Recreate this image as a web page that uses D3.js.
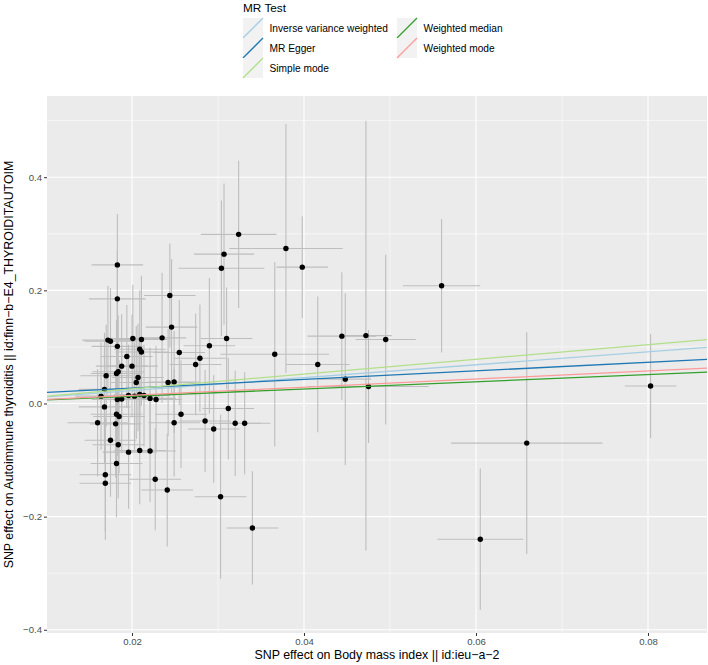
<!DOCTYPE html>
<html>
<head>
<meta charset="utf-8">
<script src="https://cdn.jsdelivr.net/npm/d3@7"></script>
<style>
  html, body { margin: 0; padding: 0; background: #ffffff; }
  svg { display: block; font-family: "Liberation Sans", Arial, Helvetica, sans-serif; }
</style>
</head>
<body>
<svg id="chart" width="708" height="665"></svg>
<script>
// ---- data ----
const exposureBeta = [0.0183,0.0183,0.0244,0.0246,0.0172,0.0175,0.0201,0.0211,0.0235,0.0183,
  0.0209,0.0211,0.0255,0.0194,0.0188,0.0200,0.0274,0.0279,0.0170,0.0182,
  0.0184,0.0207,0.0205,0.0242,0.0249,0.0168,0.0164,0.0196,0.0203,0.0209,
  0.0214,0.0183,0.0188,0.0221,0.0228,0.0168,0.0182,0.0185,0.0160,0.0181,
  0.0257,0.0249,0.0285,0.0295,0.0175,0.0184,0.0196,0.0209,0.0221,0.0182,
  0.0169,0.0169,0.0227,0.0241,0.0303,0.0324,0.0307,0.0304,0.0379,0.0398,
  0.0310,0.0290,0.0366,0.0444,0.0416,0.0448,0.0312,0.0320,0.0331,0.0340,
  0.0472,0.0495,0.0475,0.0560,0.0605,0.0659,0.0803];
const outcomeBeta = [0.245,0.185,0.191,0.135,0.112,0.110,0.115,0.113,0.116,0.101,
  0.096,0.091,0.090,0.083,0.066,0.066,0.069,0.080,0.049,0.053,
  0.056,0.046,0.037,0.037,0.038,0.025,0.013,0.014,0.013,0.016,
  0.014,0.007,0.008,0.009,0.007,-0.006,-0.019,-0.023,-0.034,-0.036,
  -0.019,-0.034,-0.031,-0.045,-0.065,-0.073,-0.086,-0.083,-0.084,-0.106,
  -0.126,-0.141,-0.134,-0.153,-0.165,0.299,0.264,0.239,0.274,0.241,
  0.115,0.102,0.087,0.119,0.069,0.043,-0.009,-0.035,-0.035,-0.220,
  0.120,0.113,0.030,0.208,-0.240,-0.070,0.031];
const exposureSE = [0.0030,0.0033,0.0030,0.0030,0.0030,0.0030,0.0030,0.0030,0.0028,0.0030,
  0.0030,0.0030,0.0030,0.0030,0.0030,0.0030,0.0030,0.0030,0.0030,0.0030,
  0.0030,0.0030,0.0030,0.0030,0.0030,0.0030,0.0030,0.0030,0.0030,0.0030,
  0.0030,0.0030,0.0030,0.0030,0.0030,0.0030,0.0030,0.0030,0.0035,0.0030,
  0.0030,0.0030,0.0030,0.0030,0.0030,0.0030,0.0030,0.0030,0.0030,0.0030,
  0.0030,0.0030,0.0030,0.0030,0.0030,0.0044,0.0035,0.0050,0.0066,0.0030,
  0.0030,0.0030,0.0063,0.0040,0.0037,0.0030,0.0030,0.0030,0.0030,0.0030,
  0.0030,0.0035,0.0070,0.0045,0.0050,0.0088,0.0030];
const outcomeSE = [0.090,0.085,0.092,0.120,0.096,0.094,0.095,0.113,0.115,0.095,
  0.104,0.095,0.093,0.091,0.092,0.091,0.090,0.095,0.090,0.095,
  0.100,0.095,0.100,0.095,0.090,0.100,0.095,0.090,0.095,0.100,
  0.090,0.100,0.095,0.090,0.095,0.100,0.095,0.100,0.095,0.095,
  0.095,0.095,0.090,0.095,0.100,0.095,0.100,0.095,0.090,0.095,
  0.100,0.100,0.090,0.100,0.145,0.130,0.125,0.120,0.220,0.090,
  0.090,0.120,0.163,0.113,0.120,0.152,0.090,0.093,0.090,0.100,
  0.380,0.150,0.100,0.118,0.125,0.196,0.092];

const methods = ["Inverse variance weighted","MR Egger","Simple mode","Weighted median","Weighted mode"];
const slopes = [1.14, 0.76, 1.30, 0.64, 0.72];
const intercepts = [0, 0.0121, 0, 0, 0];
const methodColors = ["#a6cee3","#1f78b4","#b2df8a","#33a02c","#fb9a99"];

const xTicks = [0.02, 0.04, 0.06, 0.08];
const yTicks = [-0.4, -0.2, 0.0, 0.2, 0.4];
const xTitle = "SNP effect on Body mass index || id:ieu\u2212a\u22122";
const yTitle = "SNP effect on Autoimmune thyroiditis || id:finn\u2212b\u2212E4_THYROIDITAUTOIM";
const legendTitle = "MR Test";

// ---- layout ----
const svg = d3.select("#chart");
const P = {left: 47, right: 707, top: 96, bottom: 633};

const x = d3.scaleLinear().domain([0.010118, 0.086860]).range([P.left, P.right]);
const y = d3.scaleLinear().domain([-0.40573, 0.54355]).range([P.bottom, P.top]);

const fmt = d => (d < 0 ? "\u2212" : "") + Math.abs(d).toFixed(d === 0 ? 1 : (xTicks.includes(d) ? 2 : 1));

// panel background
svg.append("rect").attr("x", P.left).attr("y", P.top)
  .attr("width", P.right - P.left).attr("height", P.bottom - P.top).attr("fill", "#ebebeb");

// minor grid
const xMinor = [0.01, 0.03, 0.05, 0.07].filter(v => v >= x.domain()[0]);
const yMinor = [-0.3, -0.1, 0.1, 0.3, 0.5];
const grid = svg.append("g");
grid.selectAll(".xm").data(xMinor).join("line")
  .attr("x1", d => x(d)).attr("x2", d => x(d)).attr("y1", P.top).attr("y2", P.bottom)
  .attr("stroke", "#ffffff").attr("stroke-width", 0.55);
grid.selectAll(".ym").data(yMinor).join("line")
  .attr("y1", d => y(d)).attr("y2", d => y(d)).attr("x1", P.left).attr("x2", P.right)
  .attr("stroke", "#ffffff").attr("stroke-width", 0.55);
grid.selectAll(".xM").data(xTicks).join("line")
  .attr("x1", d => x(d)).attr("x2", d => x(d)).attr("y1", P.top).attr("y2", P.bottom)
  .attr("stroke", "#ffffff").attr("stroke-width", 1.1);
grid.selectAll(".yM").data(yTicks).join("line")
  .attr("y1", d => y(d)).attr("y2", d => y(d)).attr("x1", P.left).attr("x2", P.right)
  .attr("stroke", "#ffffff").attr("stroke-width", 1.1);

// clip
svg.append("clipPath").attr("id", "clip").append("rect")
  .attr("x", P.left).attr("y", P.top).attr("width", P.right - P.left).attr("height", P.bottom - P.top);

const plot = svg.append("g").attr("clip-path", "url(#clip)");
const idx = d3.range(exposureBeta.length);

// vertical error bars
plot.selectAll(".ev").data(idx).join("line")
  .attr("x1", i => x(exposureBeta[i])).attr("x2", i => x(exposureBeta[i]))
  .attr("y1", i => y(outcomeBeta[i] - outcomeSE[i])).attr("y2", i => y(outcomeBeta[i] + outcomeSE[i]))
  .attr("stroke", "#bebebe").attr("stroke-width", 1.1);
// horizontal error bars
plot.selectAll(".eh").data(idx).join("line")
  .attr("y1", i => y(outcomeBeta[i])).attr("y2", i => y(outcomeBeta[i]))
  .attr("x1", i => x(exposureBeta[i] - exposureSE[i])).attr("x2", i => x(exposureBeta[i] + exposureSE[i]))
  .attr("stroke", "#bebebe").attr("stroke-width", 1.1);
// points
plot.selectAll(".pt").data(idx).join("circle")
  .attr("cx", i => x(exposureBeta[i])).attr("cy", i => y(outcomeBeta[i]))
  .attr("r", 2.7).attr("fill", "#000000");
// regression lines
const xd = x.domain();
plot.selectAll(".ab").data(d3.range(methods.length)).join("line")
  .attr("x1", x(xd[0])).attr("x2", x(xd[1]))
  .attr("y1", i => y(intercepts[i] + slopes[i] * xd[0]))
  .attr("y2", i => y(intercepts[i] + slopes[i] * xd[1]))
  .attr("stroke", i => methodColors[i]).attr("stroke-width", 1.3);

// axes
const xAxis = d3.axisBottom(x).tickValues(xTicks).tickSize(3).tickPadding(2)
  .tickFormat(d => d.toFixed(2));
const gx = svg.append("g").attr("transform", `translate(0,${P.bottom})`).call(xAxis);
gx.select(".domain").remove();
gx.selectAll(".tick line").attr("stroke", "#333333");
gx.selectAll(".tick text").attr("fill", "#4d4d4d").style("font-size", "9.6px")
  .style("font-family", "'Liberation Sans', Arial, sans-serif");

const yAxis = d3.axisLeft(y).tickValues(yTicks).tickSize(3).tickPadding(2)
  .tickFormat(d => (d < 0 ? "\u2212" : "") + Math.abs(d).toFixed(1));
const gy = svg.append("g").attr("transform", `translate(${P.left},0)`).call(yAxis);
gy.select(".domain").remove();
gy.selectAll(".tick line").attr("stroke", "#333333");
gy.selectAll(".tick text").attr("fill", "#4d4d4d").style("font-size", "9.6px")
  .style("font-family", "'Liberation Sans', Arial, sans-serif");

// axis titles
svg.append("text").attr("x", (P.left + P.right) / 2 + 0).attr("y", 659)
  .attr("text-anchor", "middle").style("font-size", "12.4px").attr("fill", "#000")
  .text(xTitle);
svg.append("text").attr("transform", `translate(13,${(P.top + P.bottom) / 2}) rotate(-90)`)
  .attr("text-anchor", "middle").style("font-size", "12.4px").attr("fill", "#000")
  .text(yTitle);

// legend
const lg = svg.append("g");
lg.append("text").attr("x", 243).attr("y", 12).style("font-size", "11.8px").text(legendTitle);
const keyPos = [[243, 18], [243, 38], [243, 58], [397, 18], [397, 38]];
const items = lg.selectAll(".li").data(d3.range(methods.length)).join("g")
  .attr("transform", i => `translate(${keyPos[i][0]},${keyPos[i][1]})`);
items.append("rect").attr("width", 20).attr("height", 20).attr("fill", "#f2f2f2");
items.append("line").attr("x1", 0).attr("y1", 20).attr("x2", 20).attr("y2", 0)
  .attr("stroke", i => methodColors[i]).attr("stroke-width", 1.3);
items.append("text").attr("x", 26.5).attr("y", 10).attr("dy", "0.35em")
  .style("font-size", "10.2px").text(i => methods[i]);
</script>
</body>
</html>
